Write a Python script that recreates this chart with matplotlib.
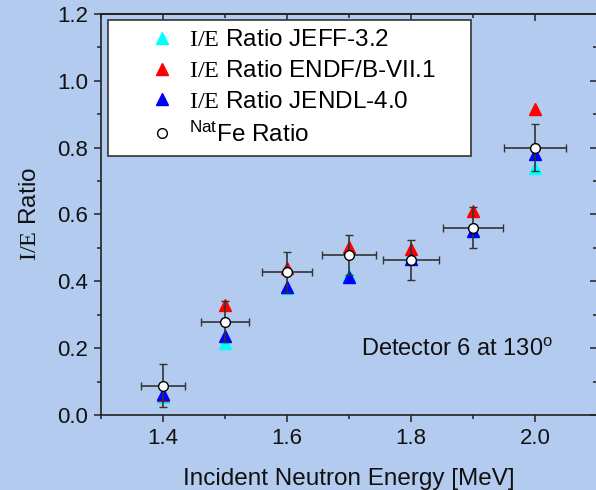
import matplotlib
matplotlib.use("Agg")
import matplotlib.pyplot as plt
from matplotlib.ticker import MultipleLocator
from matplotlib.lines import Line2D

plt.rcParams['font.family'] = ['Liberation Sans', 'DejaVu Sans']
plt.rcParams['mathtext.fontset'] = 'custom'
plt.rcParams['mathtext.rm'] = 'Liberation Serif'
plt.rcParams['mathtext.sf'] = 'Liberation Sans'
plt.rcParams['mathtext.it'] = 'Liberation Sans:italic'

energy = [1.4, 1.5, 1.6, 1.7, 1.8, 1.9, 2.0]
jeff = [0.055, 0.216, 0.380, 0.420, 0.478, 0.550, 0.738]
endf = [0.060, 0.329, 0.439, 0.504, 0.497, 0.610, 0.915]
jendl = [0.063, 0.236, 0.382, 0.414, 0.466, 0.551, 0.780]
fe_ratio = [0.088, 0.279, 0.429, 0.479, 0.464, 0.561, 0.800]
fe_yerr = [0.065, 0.062, 0.060, 0.060, 0.059, 0.062, 0.070]
fe_xerr = [0.035, 0.038, 0.040, 0.043, 0.045, 0.048, 0.050]

labels = [r'$\mathrm{I/E}$ Ratio JEFF-3.2',
          r'$\mathrm{I/E}$ Ratio ENDF/B-VII.1',
          r'$\mathrm{I/E}$ Ratio JENDL-4.0',
          r'$^{\mathsf{Nat}}$Fe Ratio']

bg = '#b3cbee'
fig = plt.figure(figsize=(5.96, 4.90), dpi=100, facecolor=bg)
ax = fig.add_axes([101/596, 75/490, 496/596, 401/490])
ax.set_facecolor(bg)

ms = 8.5
h1, = ax.plot(energy, jeff, ls='none', marker='^', ms=ms, color='#00ffff', mec='#00ffff', zorder=3)
h2, = ax.plot(energy, endf, ls='none', marker='^', ms=ms, color='#ff0000', mec='#ff0000', zorder=3)
h3, = ax.plot(energy, jendl, ls='none', marker='^', ms=ms, color='#0000ff', mec='#0000ff', zorder=3)
ax.errorbar(energy, fe_ratio, yerr=fe_yerr, xerr=fe_xerr, fmt='o', ms=7,
            mfc='white', mec='black', mew=1.0, ecolor='#333333', elinewidth=1.2,
            capsize=3, capthick=1.2, zorder=4)
h4 = Line2D([], [], ls='none', marker='o', ms=7, mfc='white', mec='black', mew=1.0)

ax.set_xlim(1.3, 2.1)
ax.set_ylim(0.0, 1.2)
ax.xaxis.set_minor_locator(MultipleLocator(0.1))
ax.yaxis.set_minor_locator(MultipleLocator(0.1))
ax.set_xticks([1.4, 1.6, 1.8, 2.0])
ax.set_xticklabels(['1.4', '1.6', '1.8', '2.0'])
ax.set_yticks([0.0, 0.2, 0.4, 0.6, 0.8, 1.0, 1.2])
ax.set_yticklabels(['0.0', '0.2', '0.4', '0.6', '0.8', '1.0', '1.2'])

for s in ax.spines.values():
    s.set_color('#222222')
    s.set_linewidth(1.2)

ax.tick_params(which='both', direction='out', colors='#222222', labelsize=16,
               top=False, right=False)
ax.tick_params(which='major', length=5, width=1.1, pad=4)
ax.tick_params(which='minor', length=3, width=1.1)
ax.tick_params(axis='both', labelcolor='#111111')

# inward ticks on top and right
secx = ax.secondary_xaxis('top')
secx.set_xticks([1.4, 1.6, 1.8, 2.0])
secx.xaxis.set_minor_locator(MultipleLocator(0.1))
secx.set_xticklabels([])
secy = ax.secondary_yaxis('right')
secy.set_yticks([0.0, 0.2, 0.4, 0.6, 0.8, 1.0, 1.2])
secy.yaxis.set_minor_locator(MultipleLocator(0.1))
secy.set_yticklabels([])
for sec in (secx, secy):
    sec.tick_params(which='both', direction='in', colors='#222222')
    sec.tick_params(which='major', length=5, width=1.1)
    sec.tick_params(which='minor', length=3, width=1.1)
    for s in sec.spines.values():
        s.set_color('#222222')
        s.set_linewidth(1.2)

ax.set_xlabel('Incident Neutron Energy [MeV]', fontsize=17.5, color='#111111', labelpad=14)
ax.set_ylabel(r'$\mathrm{I/E}$ Ratio', fontsize=17.5, color='#111111', labelpad=12)

ax.text(1.719, 0.195, r'Detector 6 at 130$^{\mathsf{o}}$', fontsize=17, color='#111111',
        ha='left', va='center')

# legend box spans x 108..471 px, top at 20 px
bx0 = 7/496
bw = 363/496
leg = ax.legend([h1, h2, h3, h4], labels, loc='upper left',
                bbox_to_anchor=(bx0, 1 - 6/401, bw, 0.0), mode='expand',
                fontsize=17.5, frameon=True, fancybox=False, framealpha=1.0,
                edgecolor='#333333', facecolor='white', borderpad=0.38,
                labelspacing=0.36, handletextpad=-0.75, handlelength=3.7,
                borderaxespad=0)
leg.get_frame().set_linewidth(1.2)

fig.savefig('out.png', dpi=100, facecolor=bg)
